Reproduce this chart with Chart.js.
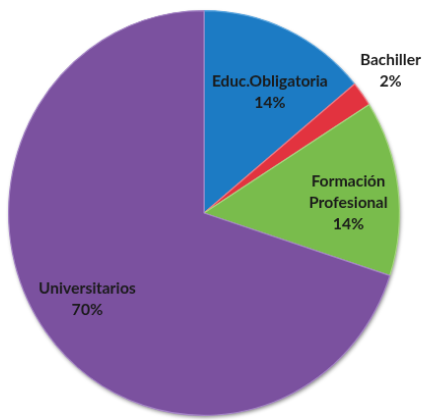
<!DOCTYPE html>
<html>
<head>
<meta charset="utf-8">
<script src="https://cdn.jsdelivr.net/npm/chart.js@4/dist/chart.umd.min.js"></script>
<style>
  html, body { margin: 0; padding: 0; background: #ffffff; overflow: hidden; }
  #wrap {
    width: 429px; height: 420px; position: relative;
    transform: scale(0.985, 1.02);
    transform-origin: 204px 213px;
  }
</style>
</head>
<body>
<div id="wrap"><canvas id="c"></canvas></div>
<script>
// Nivel de estudios: reparto en porcentaje
const categories = [["Educ.Obligatoria"], ["Bachiller"], ["Formación", "Profesional"], ["Universitarios"]];
const percentages = [14, 2, 14, 70];

const fillColors = ["#1c7bc4", "#e2333f", "#79bc4c", "#7b519f"];
const edgeColors = ["#5aa6e0", "#f27a84", "#a8d882", "#a585c6"];
// label placement: distance from the centre (share of radius) and turn from the slice's mid-angle (degrees)
const labelRadius = [0.686, 1.186, 0.74, 0.733];
const labelTurn = [4.2, -0.4, 3.3, 0.6];

// soft drop shadow beneath the whole disc
const discShadow = {
  id: "discShadow",
  beforeDatasetsDraw(chart) {
    const arc = chart.getDatasetMeta(0).data[0];
    if (!arc) return;
    const { x, y, outerRadius } = arc.getProps(["x", "y", "outerRadius"], true);
    const ctx = chart.ctx;
    ctx.save();
    ctx.shadowColor = "rgba(0,0,0,0.55)";
    ctx.shadowBlur = 4;
    ctx.shadowOffsetX = 1;
    ctx.shadowOffsetY = 2;
    ctx.fillStyle = "#6a448c";
    ctx.beginPath();
    ctx.arc(x, y, outerRadius - 0.5, 0, Math.PI * 2);
    ctx.fill();
    ctx.restore();
  }
};

// category name and percentage written on (or beside) each slice
const sliceLabels = {
  id: "sliceLabels",
  afterDatasetsDraw(chart) {
    const ctx = chart.ctx;
    const meta = chart.getDatasetMeta(0);
    ctx.save();
    ctx.font = "bold 16px Lato, 'DejaVu Sans', sans-serif";
    ctx.fillStyle = "#1b1b1b";
    ctx.textAlign = "center";
    ctx.textBaseline = "middle";
    const lineH = 21;
    meta.data.forEach((arc, i) => {
      const p = arc.getProps(["x", "y", "startAngle", "endAngle", "outerRadius"], true);
      const mid = (p.startAngle + p.endAngle) / 2 + labelTurn[i] * Math.PI / 180;
      const r = p.outerRadius * labelRadius[i];
      const cx = p.x + Math.cos(mid) * r;
      const cy = p.y + Math.sin(mid) * r;
      const lines = categories[i].concat([percentages[i] + "%"]);
      const top = cy - (lines.length - 1) * lineH / 2;
      lines.forEach((t, k) => ctx.fillText(t, cx, top + k * lineH));
    });
    ctx.restore();
  }
};

new Chart(document.getElementById("c"), {
  type: "pie",
  data: {
    labels: categories.map(c => c.join(" ")),
    datasets: [{
      data: percentages,
      backgroundColor: fillColors,
      borderColor: edgeColors,
      borderWidth: 1.2
    }]
  },
  options: {
    responsive: true,
    maintainAspectRatio: false,
    animation: false,
    layout: { padding: { left: 5, right: 26, top: 14, bottom: 8 } },
    plugins: {
      legend: { display: false },
      tooltip: { enabled: false }
    }
  },
  plugins: [discShadow, sliceLabels]
});
</script>
</body>
</html>
